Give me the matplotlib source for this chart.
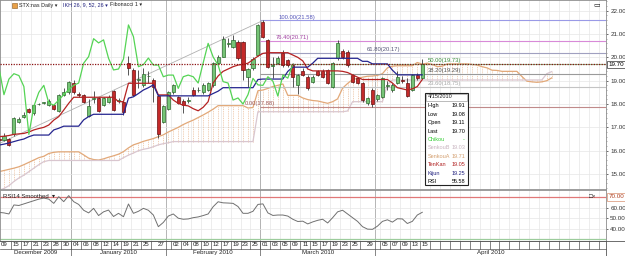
import numpy as np
import pandas as pd
import matplotlib
matplotlib.use("Agg")
import matplotlib.pyplot as plt
import matplotlib.transforms as mtrans
from matplotlib import font_manager
from matplotlib.patches import Rectangle

_names = {f.name for f in font_manager.fontManager.ttflist}
_narrow = 'Liberation Sans Narrow' if 'Liberation Sans Narrow' in _names else 'Liberation Sans'
plt.rcParams['font.family'] = [_narrow, 'DejaVu Sans']

# ---------------- data ----------------
opens = [16.30, 16.50, 16.45, 16.50, 16.70, 17.25, 17.45, 17.80, 17.60, 17.98,
         18.03, 17.95, 17.95, 17.70, 18.40, 18.50, 18.90, 18.42, 18.40, 17.50,
         18.23, 18.25, 17.95, 18.10, 18.55, 18.13, 18.10, 19.75, 19.45, 19.03,
         18.80, 19.18, 19.05, 18.35, 17.25, 17.80, 18.50, 18.30, 18.15, 18.13,
         18.60, 18.58, 18.50, 18.60, 18.80, 19.75, 20.03, 20.58, 20.45, 20.67,
         20.67, 19.17, 19.54, 20.10, 21.53, 20.74, 19.65, 19.77, 20.19, 19.90,
         19.67, 18.80, 19.43, 19.17, 18.95, 19.40, 19.40, 19.46, 18.74, 19.97,
         20.28, 20.24, 19.24, 19.10, 18.90, 18.04, 18.60, 18.20, 18.30, 18.78,
         18.60, 18.90, 19.02, 18.90, 18.60, 19.24, 19.11]
highs = [16.60, 16.60, 16.75, 16.55, 17.45, 17.45, 17.65, 17.85, 18.00, 18.05,
         18.10, 18.20, 18.00, 18.45, 18.70, 19.00, 19.05, 18.50, 18.45, 18.20,
         18.55, 18.30, 18.30, 18.40, 18.60, 18.25, 18.15, 20.05, 19.55, 19.45,
         19.55, 19.40, 19.10, 18.40, 17.95, 18.55, 18.85, 18.35, 18.20, 18.30,
         18.75, 18.75, 18.90, 18.95, 19.80, 20.10, 20.90, 20.85, 20.95, 20.75,
         20.70, 19.55, 20.00, 21.45, 21.58, 20.80, 20.00, 20.05, 20.30, 19.95,
         19.75, 19.30, 19.55, 19.25, 19.25, 19.45, 19.50, 19.50, 19.80, 20.75,
         20.35, 20.30, 19.30, 19.15, 18.95, 18.30, 18.70, 18.45, 19.15, 19.00,
         18.90, 19.40, 19.20, 19.10, 19.30, 19.35, 19.91]
lows = [16.20, 16.35, 16.40, 16.20, 16.65, 17.20, 17.40, 17.60, 17.55, 17.95,
        18.00, 17.90, 17.75, 17.65, 18.35, 18.45, 18.45, 18.30, 18.05, 17.45,
        18.05, 17.65, 17.90, 18.05, 17.70, 18.05, 17.55, 19.25, 18.35, 18.70,
        18.75, 18.90, 18.10, 16.55, 17.20, 17.75, 18.45, 18.00, 17.60, 18.05,
        18.35, 18.50, 18.45, 18.55, 18.75, 19.70, 20.00, 20.45, 20.40, 19.90,
        19.03, 18.74, 19.45, 20.05, 20.85, 19.55, 19.10, 19.70, 19.60, 19.60,
        18.74, 18.45, 19.20, 18.60, 18.90, 19.20, 19.10, 18.85, 18.70, 19.90,
        19.95, 19.60, 18.90, 18.85, 18.10, 17.95, 17.88, 18.15, 18.25, 18.60,
        18.50, 18.85, 18.90, 18.30, 18.55, 19.05, 19.08]
closes = [16.50, 16.45, 16.65, 16.25, 17.40, 17.35, 17.55, 17.65, 17.95, 18.02,
          18.07, 18.15, 17.80, 18.40, 18.50, 18.95, 18.50, 18.38, 18.10, 17.90,
          18.27, 17.70, 18.25, 18.30, 17.75, 18.17, 17.65, 19.55, 18.40, 19.07,
          19.30, 19.22, 18.75, 16.70, 17.90, 18.50, 18.80, 18.05, 17.95, 18.17,
          18.40, 18.62, 18.80, 18.90, 19.75, 20.03, 20.80, 20.62, 20.75, 19.96,
          19.46, 19.50, 19.93, 21.39, 20.89, 19.60, 19.69, 19.97, 19.67, 19.67,
          19.17, 19.24, 19.24, 18.67, 19.17, 19.24, 19.17, 18.90, 19.76, 20.60,
          20.02, 19.67, 18.96, 18.90, 18.17, 18.26, 18.00, 18.40, 19.10, 18.82,
          18.80, 19.17, 18.98, 18.34, 19.24, 19.11, 19.70]

tenkan = [16.55, 16.60, 16.62, 16.65, 16.70, 16.72, 16.74, 16.80, 16.89, 16.95,
          17.00, 17.10, 17.31, 17.46, 17.74, 18.03, 18.29, 18.29, 18.29, 18.29,
          18.29, 18.29, 18.29, 18.29, 18.29, 18.10, 18.10, 18.89, 18.89, 18.89,
          18.89, 18.89, 18.89, 18.39, 18.39, 18.39, 18.17, 18.03, 17.95, 17.92,
          17.80, 17.71, 17.86, 18.10, 18.90, 19.20, 19.40, 19.50, 19.60, 19.67,
          19.70, 19.75, 19.90, 20.05, 20.17, 20.20, 20.20, 20.20, 20.20, 20.20,
          20.10, 20.00, 19.85, 19.50, 19.42, 19.42, 19.42, 19.42, 19.42, 19.42,
          19.40, 19.35, 19.25, 19.15, 19.05, 19.05, 19.05, 19.05, 19.05, 19.05,
          18.90, 18.70, 18.65, 18.60, 18.65, 18.75, 19.05]
kijun = [16.20, 16.24, 16.28, 16.33, 16.39, 16.45, 16.50, 16.60, 16.67, 16.67,
         16.67, 16.67, 16.89, 16.96, 17.05, 17.05, 17.05, 17.05, 17.32, 17.46,
         17.56, 17.56, 17.56, 17.56, 17.56, 17.56, 17.56, 18.25, 18.31, 18.45,
         18.60, 18.70, 18.82, 18.35, 18.35, 18.35, 18.35, 18.35, 18.35, 18.35,
         18.35, 18.35, 18.35, 18.35, 18.45, 18.55, 18.70, 18.70, 18.70, 18.70,
         18.70, 18.70, 18.70, 19.05, 19.07, 19.07, 19.07, 19.07, 19.07, 19.40,
         19.58, 19.58, 19.58, 19.58, 19.75, 19.96, 19.96, 19.96, 19.96, 19.96,
         19.96, 19.96, 19.96, 19.96, 19.83, 19.83, 19.72, 19.72, 19.72, 19.72,
         19.45, 19.25, 19.25, 19.25, 19.25, 19.25, 19.25]

# senkou spans as drawn (already displaced 26 bars ahead), one value per bar slot
senkou_a = [15.00, 15.10, 15.15, 15.20, 15.25, 15.31, 15.40, 15.50, 15.60, 15.70,
            15.76, 15.88, 15.93, 15.95, 15.95, 15.95, 15.95, 15.95, 15.82, 15.68,
            15.62, 15.60, 15.65, 15.72, 15.78, 15.85, 15.96, 16.12, 16.25, 16.32,
            16.40, 16.46, 16.52, 16.60, 16.68, 16.80, 16.90, 17.00, 17.12, 17.22,
            17.31, 17.42, 17.53, 17.65, 17.78, 17.93, 17.93, 17.93, 17.93, 17.93,
            17.93, 17.83, 17.85, 18.57, 18.60, 18.67, 18.75, 18.80, 18.86, 18.37,
            18.37, 18.37, 18.26, 18.19, 18.15, 18.13, 18.08, 18.03, 18.10, 18.22,
            18.68, 18.88, 19.05, 19.10, 19.15, 19.19, 19.20, 19.23, 19.30, 19.55,
            19.62, 19.64, 19.64, 19.64, 19.64, 19.78, 19.71, 19.75, 19.70, 19.60,
            19.62, 19.72, 19.72, 19.72, 19.72, 19.72, 19.70, 19.67, 19.60, 19.55,
            19.45, 19.44, 19.40, 19.40, 19.40, 19.40, 19.18, 18.98, 18.95, 18.93,
            18.95, 19.00, 19.12]
senkou_b = [14.20, 14.30, 14.38, 14.50, 14.68, 14.83, 14.95, 15.10, 15.25, 15.40,
            15.53, 15.58, 15.58, 15.58, 15.58, 15.58, 15.58, 15.58, 15.58, 15.58,
            15.58, 15.58, 15.58, 15.58, 15.58, 15.58, 15.70, 15.81, 15.90, 16.00,
            16.06, 16.10, 16.17, 16.25, 16.30, 16.34, 16.39, 16.39, 16.39, 16.39,
            16.39, 16.39, 16.39, 16.39, 16.39, 16.39, 16.39, 16.39, 16.39, 16.39,
            16.39, 16.39, 16.39, 17.67, 17.67, 17.67, 17.67, 17.67, 17.67, 17.67,
            17.67, 17.67, 17.67, 17.67, 17.67, 17.67, 17.67, 17.67, 17.67, 17.67,
            17.67, 17.70, 18.10, 18.10, 18.10, 18.10, 18.10, 18.10, 18.10, 18.83,
            19.03, 19.03, 19.03, 19.03, 19.03, 19.03, 19.03, 19.03, 19.03, 19.03,
            19.03, 19.03, 19.03, 19.03, 19.03, 19.03, 19.03, 19.03, 19.03, 19.03,
            19.03, 19.03, 19.03, 19.03, 19.03, 19.03, 19.03, 19.03, 19.03, 19.03,
            19.03, 19.30, 19.39]

rsi = [56.0, 55.5, 55.0, 54.0, 62.5, 62.0, 63.5, 65.0, 66.5, 68.0,
       69.0, 68.0, 64.0, 70.3, 65.6, 71.3, 65.6, 63.0, 57.5, 55.0,
       59.3, 52.5, 56.0, 57.7, 51.6, 54.6, 51.4, 63.4, 54.6, 56.5,
       59.3, 57.5, 53.0, 42.0, 46.0, 52.0, 54.0, 50.0, 49.0, 49.3,
       50.5, 51.2, 52.5, 54.0, 60.8, 65.5, 64.5, 64.3, 64.0, 61.0,
       54.6, 54.6, 56.5, 63.0, 63.5, 55.0, 52.6, 53.0, 53.0, 52.0,
       49.0, 46.9, 47.2, 44.6, 46.5, 48.0, 49.0, 45.5, 50.5, 56.0,
       57.5, 54.0, 50.5, 47.0, 42.0, 39.7, 39.5, 42.5, 47.0, 48.5,
       46.3, 49.5, 49.3, 45.0, 47.0, 53.0, 55.58]

fib_levels = [0.0, 23.6, 38.2, 50.0, 61.8, 76.4, 100.0]
fib_prices = [17.88, 18.75, 19.29, 19.73, 20.17, 20.71, 21.58]
fib_colors = ['#c08a8a', '#c4c4c4', '#9a9a9a', '#8fbf8f', '#a0a0c0', '#d88ad8', '#9a9ae6']
fib_text_colors = ['#a05a5a', '#a8a8a8', '#555555', '#3c8c3c', '#555577', '#a040a0', '#5555bb']
fib_label_px = [245, 428, 428, 428, 367, 276, 279]

holidays = ["2009-12-25", "2010-01-01", "2010-01-18", "2010-02-15", "2010-04-02", "2010-05-31"]
day_ticks = ["2009-12-09", "2009-12-15", "2009-12-17", "2009-12-21", "2009-12-23", "2009-12-28",
             "2009-12-30", "2010-01-04", "2010-01-06", "2010-01-08", "2010-01-12", "2010-01-14",
             "2010-01-19", "2010-01-21", "2010-01-25", "2010-01-27", "2010-02-02", "2010-02-04",
             "2010-02-08", "2010-02-10", "2010-02-12", "2010-02-17", "2010-02-19", "2010-02-23",
             "2010-02-25", "2010-03-01", "2010-03-03", "2010-03-05", "2010-03-09", "2010-03-11",
             "2010-03-15", "2010-03-17", "2010-03-19", "2010-03-23", "2010-03-25", "2010-03-29",
             "2010-04-05", "2010-04-07", "2010-04-09", "2010-04-13", "2010-04-15"]
month_starts = ["2010-01-04", "2010-02-01", "2010-03-01", "2010-04-01"]
month_names = ["December 2009", "January 2010", "February 2010", "March 2010", "April 2010"]

info_rows = [("High", "19.91", "black"), ("Low", "19.08", "black"), ("Open", "19.11", "black"),
             ("Last", "19.70", "black"), ("Chikou", "-", "#33cc33"), ("SenkouB", "19.03", "#c8b4c0"),
             ("SenkouA", "19.71", "#d4a070"), ("TenKan", "19.05", "#b02020"),
             ("Kijun", "19.25", "#22227f"), ("RSI", "55.58", "black")]

# ---------------- calendar / geometry ----------------
days = pd.bdate_range("2009-12-09", "2010-06-30")
days = days[~days.isin(pd.to_datetime(holidays))]
pos = {d.strftime("%Y-%m-%d"): k for k, d in enumerate(days)}

W, H = 625, 256
X0, DX = -6.0, 4.98          # pixel of bar 0, pixels per bar


def px2i(px):
    return (px - X0) / DX


def fx(px):
    return px / W


def fy(py):
    return 1 - py / H


fig = plt.figure(figsize=(W / 100, H / 100), dpi=100)
fig.patch.set_facecolor('white')

ax = fig.add_axes([0, fy(189), 606 / W, 189 / H])
ax_rsi = fig.add_axes([0, fy(240.5), 606 / W, 50.5 / H])
ax_d = fig.add_axes([0, 0, 1, 15.5 / H])

left_i, right_i = px2i(0), px2i(606)
for a in (ax, ax_rsi):
    a.set_xlim(left_i, right_i)
    a.set_xticks([])
    for s in a.spines.values():
        s.set_color('#8c8c8c')
        s.set_linewidth(0.6)
ax.set_ylim(22 - (189 - 10.7) / 23.33, 22 + 10.7 / 23.33)
ax_rsi.set_ylim(70 - (240.5 - 197) / 1.06, 70 + 7 / 1.06)

# cell boundaries of the date strip
bounds = [pos[d] - 0.5 for d in day_ticks]
b = pos[day_ticks[-1]] + 1.5
while b < px2i(625):
    bounds.append(b)
    b += 2
mbounds = [pos[d] - 0.5 for d in month_starts]

for a in (ax, ax_rsi):
    for b in bounds:
        a.axvline(b, color='#e6e6e6', lw=0.5, zorder=0)
    for b in mbounds:
        a.axvline(b, color='#a9a9a9', lw=0.6, zorder=0)
for p in range(15, 23):
    ax.axhline(p, color='#e6e6e6', lw=0.5, zorder=0)
for v in (40, 50, 60):
    ax_rsi.axhline(v, color='#e6e6e6', lw=0.5, zorder=0)

# ---------------- ichimoku cloud ----------------
cx = np.arange(len(senkou_a))
ax.vlines(cx, senkou_b, senkou_a, colors='#e9b48c', lw=0.5, linestyles=(0, (1.3, 1.3)), zorder=1)
ax.plot(cx, senkou_a, color='#e2a878', lw=0.9, zorder=2)
ax.plot(cx, senkou_b, color='#d9c6cf', lw=0.9, zorder=2)

# ---------------- fibonacci ----------------
hi_i, lo_i = int(np.argmax(highs)), int(np.argmin(lows))
ax.hlines(fib_prices, hi_i - 0.5, right_i, colors=fib_colors, lw=0.8, zorder=2)
ax.plot([hi_i, lo_i], [highs[hi_i], lows[lo_i]], color='#b0b0b0', lw=0.6, zorder=2)
for lvl, pr, col, xp in zip(fib_levels, fib_prices, fib_text_colors, fib_label_px):
    ax.text(px2i(xp), pr + 0.04, f"{lvl:.2f}({pr:.2f})", fontsize=4.2, color=col,
            va='bottom', ha='left', zorder=6)

# ---------------- candles ----------------
idx = np.arange(len(closes))
o, h, l, c = (np.array(v) for v in (opens, highs, lows, closes))
up = c >= o
body = np.maximum(np.abs(c - o), 0.035)
bot = np.minimum(o, c)
ax.vlines(idx, l, h, color='#3a3a3a', lw=0.6, zorder=4)
ax.bar(idx[up], body[up], bottom=bot[up], width=0.62, color='#76c476',
       edgecolor='#2d6a2d', lw=0.5, zorder=5)
ax.bar(idx[~up], body[~up], bottom=bot[~up], width=0.62, color='#c42a2a',
       edgecolor='#6a0f0f', lw=0.5, zorder=5)

# ---------------- ichimoku lines ----------------
ax.plot(idx, tenkan, color='#b52222', lw=0.9, zorder=6)
ax.plot(idx, kijun, color='#25258f', lw=0.9, zorder=6)
ax.plot(idx[26:] - 26, c[26:], color='#55d455', lw=0.9, zorder=6)

# last price
ax.axhline(closes[-1], color='#8b1212', lw=0.9, ls=(0, (1, 1.1)), zorder=7)

# right price axis
ax.yaxis.tick_right()
ax.set_yticks(range(15, 23))
ax.set_yticklabels([f"{v:.2f}" for v in range(15, 23)])
ax.set_yticks(np.arange(14.4, 22.5, 0.2), minor=True)
ax.tick_params(axis='y', which='major', length=1.5, width=0.5, pad=1.5, labelsize=4.5,
               colors='#333333')
ax.tick_params(axis='y', which='minor', length=0.8, width=0.4, colors='#666666')
yb = mtrans.blended_transform_factory(ax.transAxes, ax.transData)
ax.text(1.004, closes[-1], f"{closes[-1]:.2f}", transform=yb, fontsize=4.5, va='center',
        ha='left', clip_on=False, zorder=8,
        bbox=dict(boxstyle='square,pad=0.2', fc='white', ec='#333333', lw=0.5))

# ---------------- RSI ----------------
ax_rsi.plot(idx, rsi, color='#707070', lw=0.7, zorder=3)
ax_rsi.axhline(70, color='#e07878', lw=0.9, zorder=2)
ax_rsi.axhline(30, color='#9ccc9c', lw=0.9, zorder=2)
ax_rsi.yaxis.tick_right()
ax_rsi.set_yticks([40, 50, 60])
ax_rsi.set_yticklabels(["40.00", "50.00", "60.00"])
ax_rsi.tick_params(axis='y', length=1.5, width=0.5, pad=1.5, labelsize=4.5, colors='#333333')
yr = mtrans.blended_transform_factory(ax_rsi.transAxes, ax_rsi.transData)
ax_rsi.text(1.004, 70, "70.00", transform=yr, fontsize=4.5, va='center', ha='left',
            color='#b04020', clip_on=False,
            bbox=dict(boxstyle='square,pad=0.2', fc='white', ec='#d89070', lw=0.5))
ax_rsi.text(0.005, 0.93, "RSI14 Smoothed  \u25be", transform=ax_rsi.transAxes, fontsize=4.3,
            va='top', ha='left', color='#222222')
ax_rsi.text(0.972, 0.93, "\u25a1\u00d7", transform=ax_rsi.transAxes, fontsize=4.5,
            va='top', ha='left', color='#222222')

# ---------------- date strip ----------------
ax_d.set_xlim(px2i(0), px2i(625))
ax_d.set_ylim(0, 1)
ax_d.axis('off')
mid = 0.45
ax_d.plot([px2i(0), px2i(625)], [1, 1], color='#555555', lw=0.6)
ax_d.plot([px2i(0), px2i(606)], [mid, mid], color='#555555', lw=0.5)
for b in bounds:
    if b < right_i:
        ax_d.plot([b, b], [mid, 1], color='#555555', lw=0.5)
for b in mbounds:
    ax_d.plot([b, b], [0, 1], color='#555555', lw=0.5)
ax_d.plot([right_i, right_i], [0, 1], color='#555555', lw=0.6)
for k, d in enumerate(day_ticks):
    ctr = max((bounds[k] + bounds[k + 1]) / 2, px2i(4.5))
    ax_d.text(ctr, 0.73, d[-2:], fontsize=4.4, ha='center', va='center', color='#222222')
medges = [left_i] + mbounds + [right_i]
for k, name in enumerate(month_names):
    ax_d.text((medges[k] + medges[k + 1]) / 2, 0.22, name, fontsize=4.4, ha='center',
              va='center', color='#222222')

# ---------------- header ----------------
fig.add_artist(Rectangle((fx(12), fy(7.5)), 5 / W, 5 / H, transform=fig.transFigure,
                         fc='#e8a048', ec='#8a5a20', lw=0.4))
for xp, txt, col in [(19, "STX:nas Daily", '#222222'), (63, "IKH 26, 9, 52, 26", '#22227f'),
                     (110, "Fibonacci 1", '#222222')]:
    fig.text(fx(xp), fy(5), txt + " \u25be", fontsize=3.9, va='center', color=col)
fig.text(fx(593), fy(4.5), "\u25ad", fontsize=5, va='center', color='#222222')

# ---------------- info box ----------------
fig.add_artist(Rectangle((fx(425), fy(185)), 43 / W, 92 / H, transform=fig.transFigure,
                         fc='white', ec='#222222', lw=0.8, zorder=20))
fig.add_artist(Rectangle((fx(426), fy(101)), 41 / W, 7.5 / H, transform=fig.transFigure,
                         fc='white', ec='#888888', lw=0.4, zorder=21))
fig.text(fx(428), fy(97), "4/15/2010", fontsize=4.0, va='center', color='#222222', zorder=22)
for k, (lab, val, col) in enumerate(info_rows):
    yy = 105.7 + k * 8.45
    fig.text(fx(428), fy(yy), lab, fontsize=4.0, va='center', color=col, zorder=22)
    fig.text(fx(465), fy(yy), val, fontsize=4.0, va='center', ha='right', color=col, zorder=22)

fig.savefig("out.png", dpi=100)
